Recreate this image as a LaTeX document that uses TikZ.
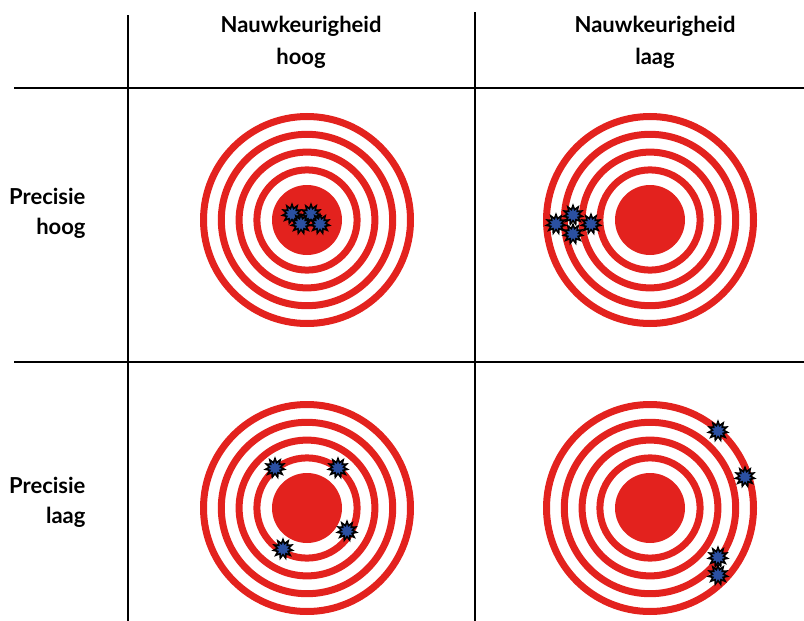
\documentclass[tikz,border=0pt]{standalone}
\usepackage{fontspec}
\setmainfont{Lato}
\usetikzlibrary{shapes.geometric}
\definecolor{ringred}{HTML}{E3221E}
\definecolor{hitblue}{HTML}{2B50A2}
\tikzset{
  gridline/.style={line width=1.3pt},
  ring/.style={draw=ringred,line width=7pt},
  bull/.style={circle,fill=ringred,minimum size=70pt,inner sep=0},
  % a hit is a small jagged blue splat
  hit/.style={star,star points=11,star point ratio=1.7,draw=black,line width=1.6pt,fill=hitblue,minimum size=19pt,inner sep=0},
  head/.style={font=\bfseries\fontsize{22}{32}\selectfont,align=center},
  rowlab/.style={font=\bfseries\fontsize{22}{30}\selectfont,align=right,anchor=east},
}
\newcommand{\target}[2]{%
  \coordinate (#1) at (#2);
  \foreach \r in {103.5,85.7,67.9,50.1}
    \draw[ring] (#1) circle (\r);
  \node[bull] (#1-bull) at (#1) {};
}

\begin{document}
\begin{tikzpicture}[x=1pt,y=-1pt]
  \useasboundingbox (0,0) rectangle (804,621);
  % grid
  \coordinate (v1t) at (128,15);  \coordinate (v1b) at (128,621);
  \coordinate (v2t) at (475,12);  \coordinate (v2b) at (475,621);
  \coordinate (h1l) at (14,88);   \coordinate (h1r) at (804,88);
  \coordinate (h2l) at (14,362);  \coordinate (h2r) at (804,362);
  \draw[gridline] (v1t) -- (v1b);
  \draw[gridline] (v2t) -- (v2b);
  \draw[gridline] (h1l) -- (h1r);
  \draw[gridline] (h2l) -- (h2r);
  % labels
  \node[head] (colhigh) at (301,42) {Nauwkeurigheid\\hoog};
  \node[head] (collow) at (655,42) {Nauwkeurigheid\\laag};
  \node[rowlab] (rowhigh) at (89,213) {Precisie\\hoog};
  \node[rowlab] (rowlow) at (89,502) {Precisie\\laag};
  % targets
  \target{thh}{307,220}
  \target{thl}{650,220}
  \target{tlh}{307,508}
  \target{tll}{650,508}
  % hits: precise and accurate
  \node[hit] (a1) at (292,214) {};
  \node[hit] (a2) at (311,214) {};
  \node[hit] (a3) at (301,224) {};
  \node[hit] (a4) at (320,224) {};
  % precise, not accurate
  \node[hit] (b1) at (556,224) {};
  \node[hit] (b2) at (573,215) {};
  \node[hit] (b3) at (573,234) {};
  \node[hit] (b4) at (591,224) {};
  % accurate, not precise
  \node[hit] (c1) at (275,468) {};
  \node[hit] (c2) at (338,468) {};
  \node[hit] (c3) at (347,531) {};
  \node[hit] (c4) at (283,549) {};
  % neither
  \node[hit] (d1) at (718,431) {};
  \node[hit] (d2) at (745,477) {};
  \node[hit] (d3) at (718,557) {};
  \node[hit] (d4) at (718,575) {};
\end{tikzpicture}
\end{document}
